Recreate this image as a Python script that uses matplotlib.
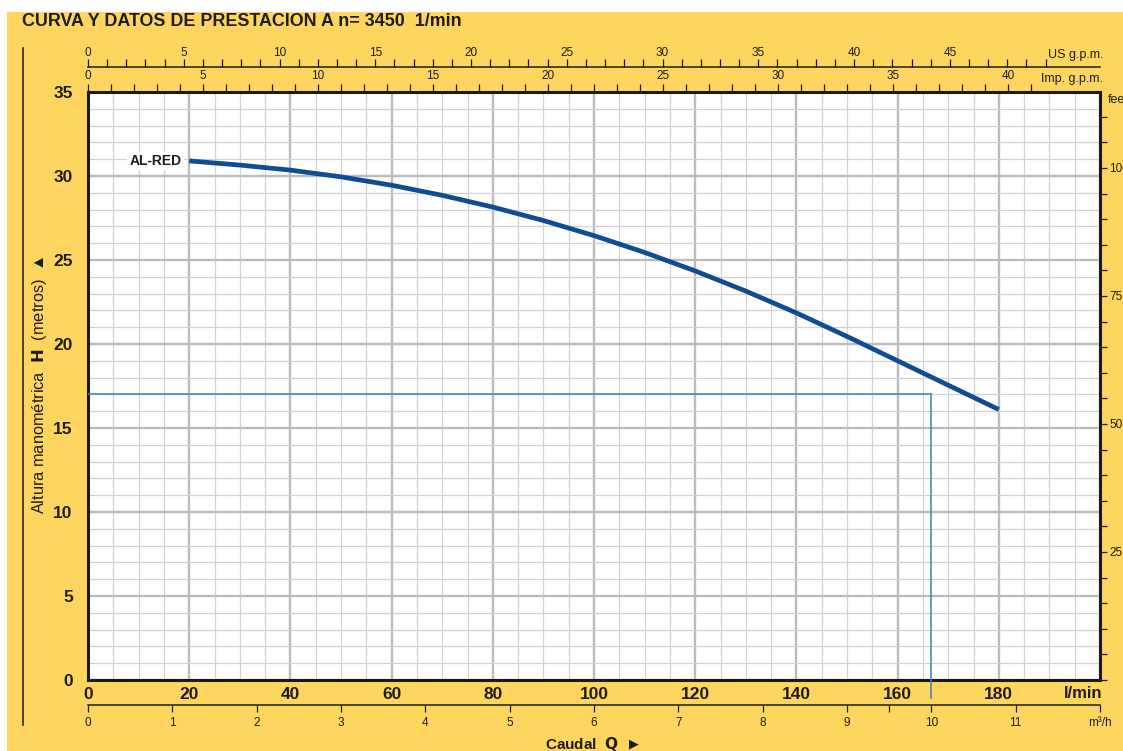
import numpy as np
import matplotlib
matplotlib.use("Agg")
import matplotlib.pyplot as plt
from matplotlib.ticker import FixedLocator, MultipleLocator, NullFormatter
from matplotlib.lines import Line2D
from matplotlib.patches import Rectangle

plt.rcParams['font.family'] = ['Liberation Sans', 'DejaVu Sans']

# pump curve AL-RED, n = 3450 1/min
caudal_lmin = [20, 30, 40, 50, 60, 70, 80, 90, 100, 110, 120, 130, 140, 150, 160, 170, 180]
altura_m = [30.9, 30.65, 30.35, 29.95, 29.45, 28.85, 28.15, 27.35, 26.45, 25.45, 24.35,
            23.15, 21.85, 20.45, 19.0, 17.55, 16.1]
nombre_bomba = "AL-RED"

# duty point: 10 m3/h at 17 m
punto_q_m3h = 10
punto_h = 17

us_ticks = list(range(0, 46, 5))
imp_ticks = list(range(0, 41, 5))
m3h_ticks = list(range(0, 13))
m3h_labels = [str(v) for v in range(0, 12)] + ["m³/h"]
feet_ticks = [25, 50, 75, 100]

W, H = 1123, 751
AMARILLO = "#fdd55f"
AZUL = "#0e4c93"
AZUL_CLARO = "#3f7dc6"
TXT = "#1e1e1e"


def px(x, y):
    return x / W, 1 - y / H


fig = plt.figure(figsize=(W / 100, H / 100), dpi=100, facecolor="white")
fig.add_artist(Rectangle((7 / W, 0), 1, 1 - 12 / H, transform=fig.transFigure,
                         facecolor=AMARILLO, edgecolor="none", zorder=0))

x0, y0 = px(88, 680)
x1, y1 = px(1100, 92)
ax = fig.add_axes([x0, y0, x1 - x0, y1 - y0])
ax.set_facecolor("white")
ax.set_xlim(0, 200)
ax.set_ylim(0, 35)

# grid
ax.xaxis.set_major_locator(FixedLocator(range(0, 181, 20)))
ax.xaxis.set_minor_locator(MultipleLocator(5))
ax.yaxis.set_major_locator(MultipleLocator(5))
ax.yaxis.set_minor_locator(MultipleLocator(1))
ax.grid(which="minor", color="#d2d2d5", lw=0.9, zorder=1)
ax.grid(which="major", color="#bbbcbf", lw=1.7, zorder=1)
ax.axvline(200, color="#bbbcbf", lw=1.7, zorder=1)
ax.set_axisbelow(True)
for s in ax.spines.values():
    s.set_linewidth(2.2)
    s.set_color("#1a1a1a")

ax.tick_params(which="both", length=0)
ax.tick_params(axis="x", pad=5, labelsize=12.5, labelcolor=TXT)
ax.tick_params(axis="y", pad=11, labelsize=12.5, labelcolor=TXT)
for lab in ax.get_xticklabels() + ax.get_yticklabels():
    lab.set_fontweight("bold")

# curve
ax.plot(caudal_lmin, altura_m, color=AZUL, lw=3.4, solid_capstyle="butt",
        solid_joinstyle="round", zorder=4)
ax.text(caudal_lmin[0] - 1.5, altura_m[0], nombre_bomba, ha="right", va="center",
        fontsize=10, fontweight="bold", color=TXT, zorder=5,
        bbox=dict(facecolor="white", edgecolor="none", pad=1.5))

# duty point lines
q_punto = punto_q_m3h * 1000 / 60
ax.plot([0, q_punto], [punto_h, punto_h], color=AZUL_CLARO, lw=1.1, zorder=3)
ax.plot([q_punto, q_punto], [punto_h, -1.1], color=AZUL_CLARO, lw=1.1, zorder=3, clip_on=False)

# US gpm scale
us = ax.secondary_xaxis(1 + 25 / 588, functions=(lambda q: q / 3.785, lambda g: g * 3.785))
us.xaxis.set_major_locator(FixedLocator(us_ticks))
us.xaxis.set_minor_locator(FixedLocator(range(0, 51)))
us.xaxis.set_minor_formatter(NullFormatter())
us.tick_params(which="both", direction="out", length=5.5, width=0.9, color=TXT,
               labelsize=8.5, labelcolor=TXT, pad=0.5)
us.spines["top"].set_linewidth(1.1)
us.spines["top"].set_color(TXT)

# Imp gpm scale
imp = ax.secondary_xaxis("top", functions=(lambda q: q / 4.546, lambda g: g * 4.546))
imp.xaxis.set_major_locator(FixedLocator(imp_ticks))
imp.xaxis.set_minor_locator(FixedLocator(range(0, 42)))
imp.xaxis.set_minor_formatter(NullFormatter())
imp.tick_params(which="both", direction="out", length=5.5, width=0.9, color=TXT,
                labelsize=8.5, labelcolor=TXT, pad=1.5)
imp.spines["top"].set_visible(False)

# m3/h scale
m3h = ax.secondary_xaxis(-25 / 588, functions=(lambda q: q * 60 / 1000, lambda m: m * 1000 / 60))
m3h.xaxis.set_major_locator(FixedLocator(m3h_ticks))
m3h.set_xticklabels(m3h_labels)
m3h.xaxis.set_minor_locator(FixedLocator([9.5]))
m3h.tick_params(which="both", direction="out", length=5, width=0.9, color=TXT,
                labelsize=8.5, labelcolor=TXT, pad=4)
m3h.spines["bottom"].set_linewidth(1.1)
m3h.spines["bottom"].set_color(TXT)

# feet scale
ft = ax.secondary_yaxis("right", functions=(lambda m: m / 0.3048, lambda f: f * 0.3048))
ft.yaxis.set_major_locator(FixedLocator(feet_ticks))
ft.yaxis.set_minor_locator(FixedLocator(range(0, 111, 5)))
ft.tick_params(which="both", direction="out", length=5, width=0.9, color=TXT,
               labelsize=8.5, labelcolor=TXT, pad=1.5)
ft.spines["right"].set_visible(False)

# texts
fig.text(*px(22, 22), "CURVA Y DATOS DE PRESTACION A n= 3450  1/min", ha="left", va="center",
         fontsize=12.9, fontweight="bold", color=TXT)
fig.text(*px(1103, 55), "US g.p.m.", ha="right", va="center", fontsize=9, color=TXT)
fig.text(*px(1103, 79), "Imp. g.p.m.", ha="right", va="center", fontsize=9, color=TXT)
fig.text(*px(1108, 100), "feet", ha="left", va="center", fontsize=9, color=TXT)
fig.text(*px(1102, 693), "l/min", ha="right", va="center", fontsize=12, fontweight="bold", color=TXT)
fig.text(*px(582, 744), "Caudal  $\\mathbf{Q}$", ha="center", va="center",
         fontsize=11, fontweight="bold", color=TXT)
fig.text(*px(634, 744), "▶", ha="center", va="center", fontsize=9,
         family="DejaVu Sans", color=TXT)
fig.text(*px(40, 385), "Altura manométrica  $\\mathbf{H}$  (metros)  ▲", ha="center", va="center",
         rotation=90, fontsize=11.8, color=TXT)
fig.add_artist(Line2D([23 / W, 23 / W], [1 - 48 / H, 1 - 725 / H], transform=fig.transFigure,
                      color="#2a2a2a", lw=1.2))

fig.savefig("out.png", dpi=100, facecolor=fig.get_facecolor())
